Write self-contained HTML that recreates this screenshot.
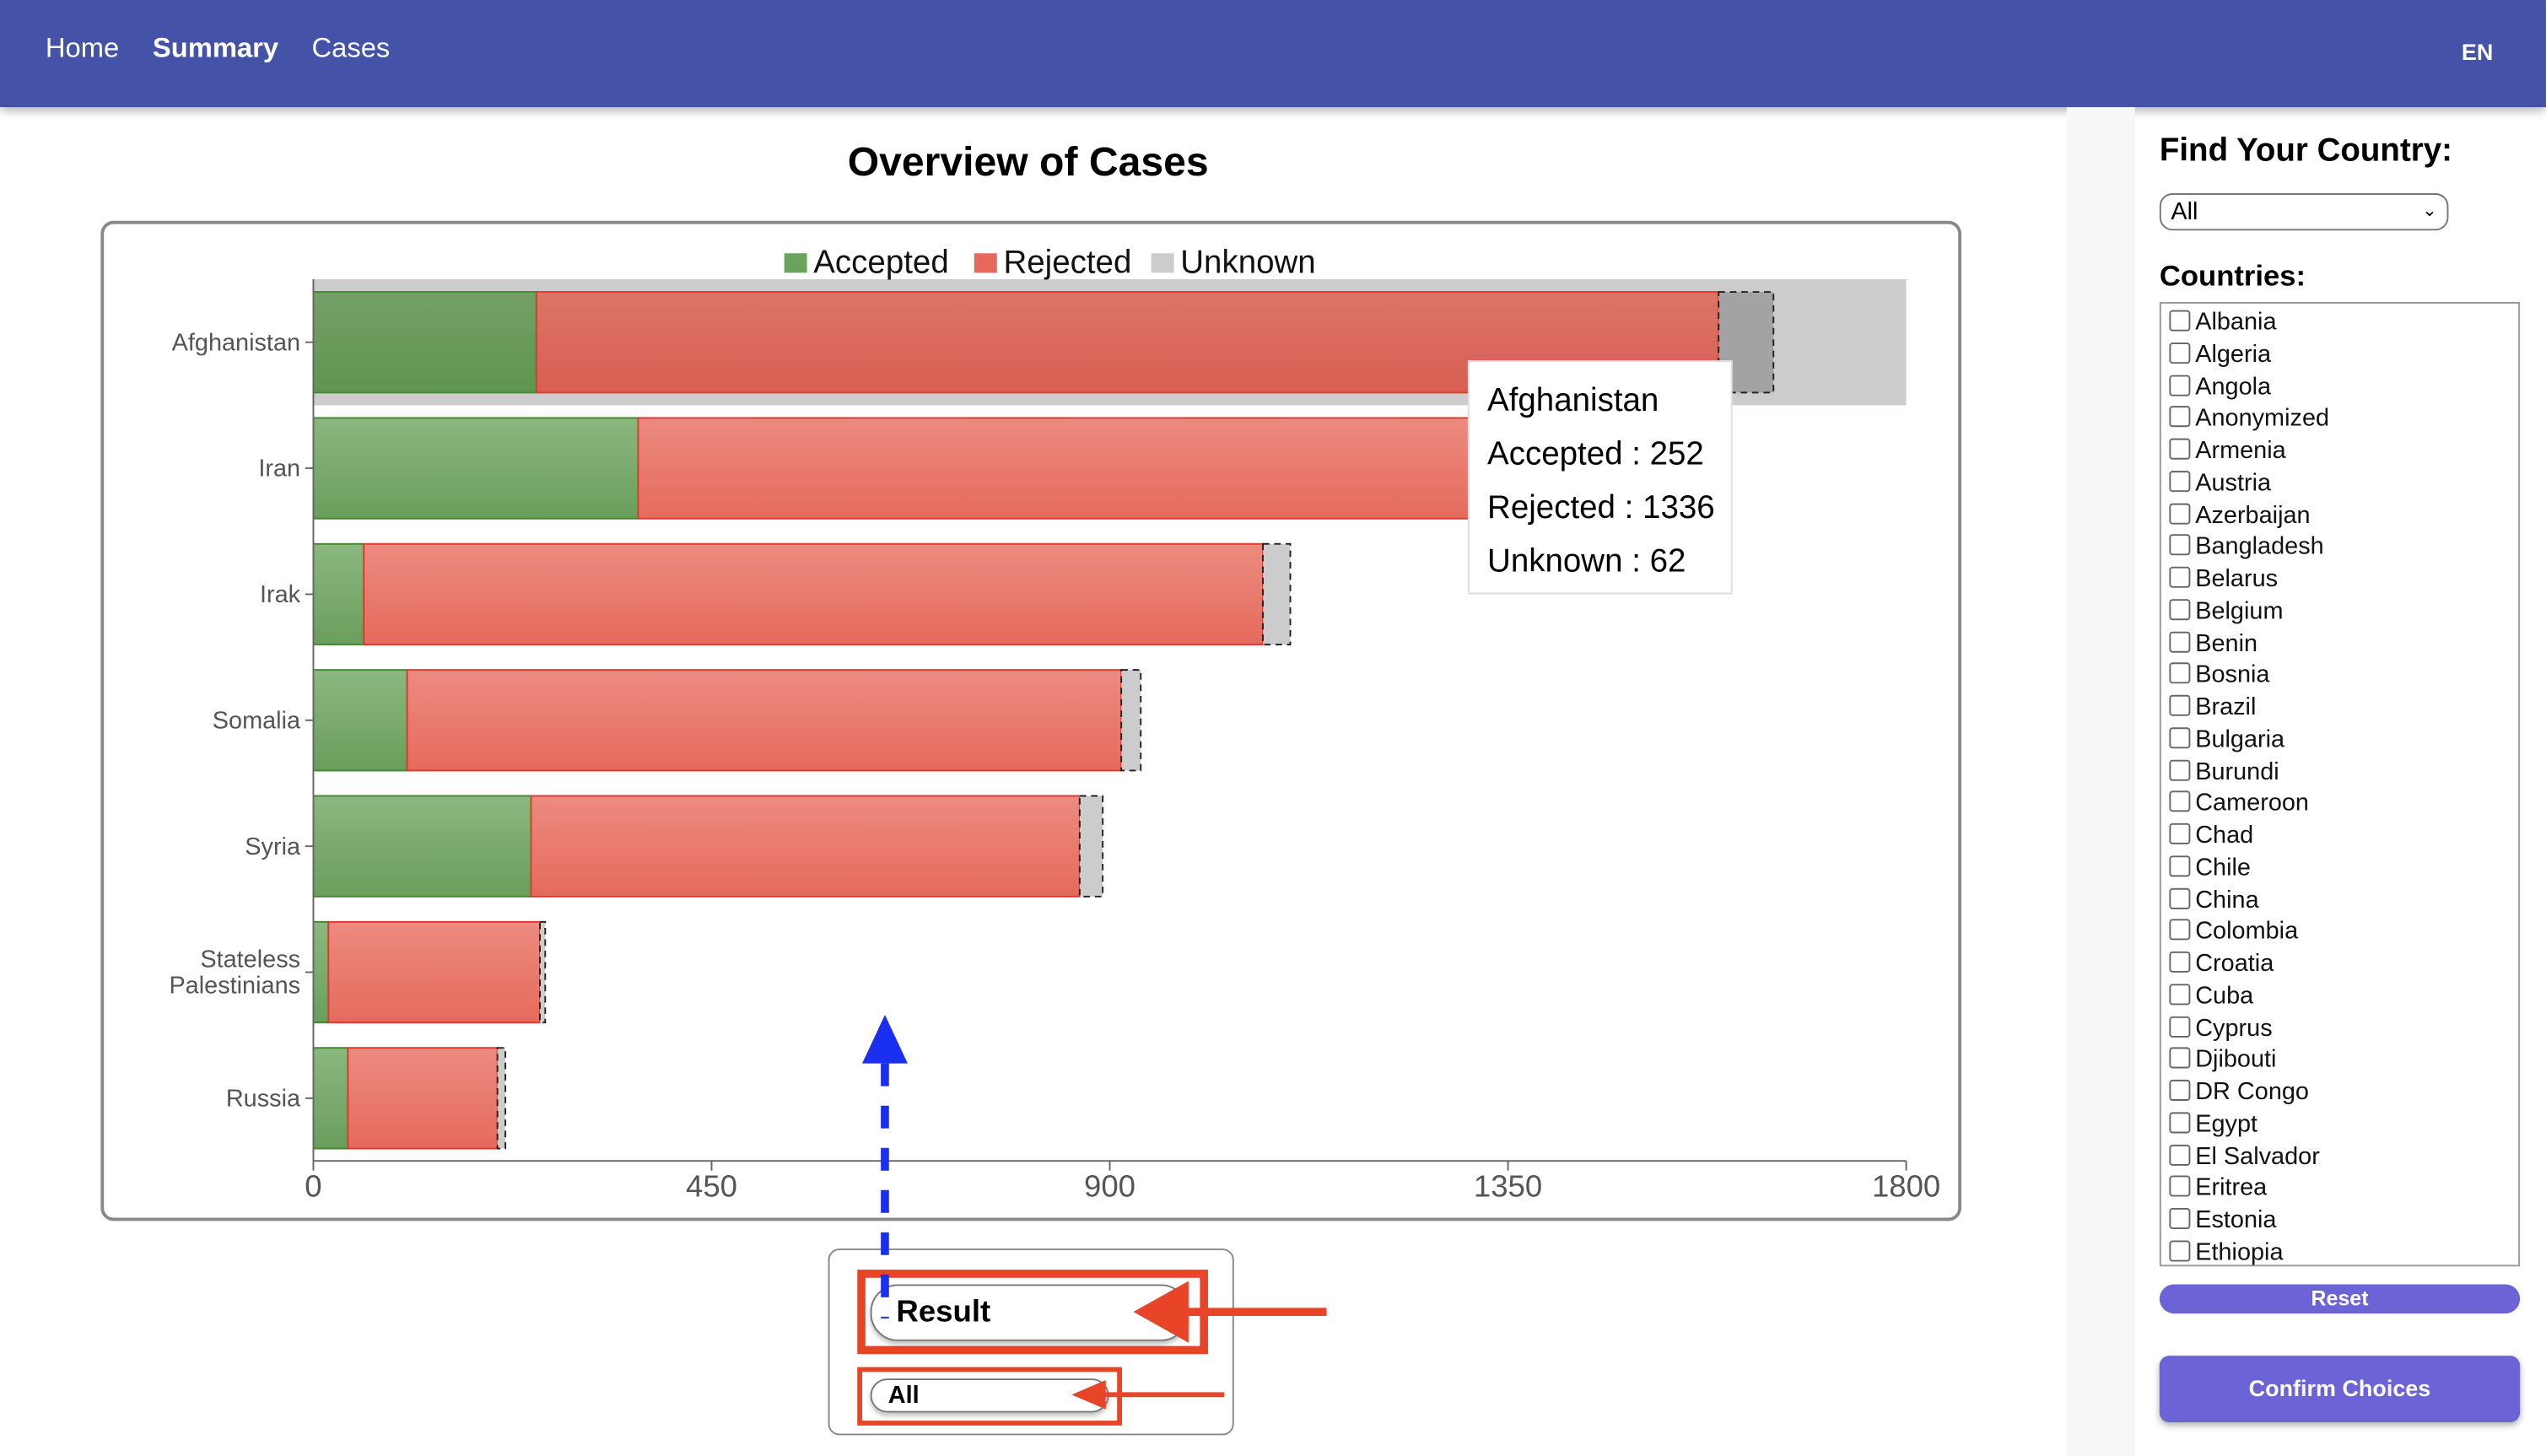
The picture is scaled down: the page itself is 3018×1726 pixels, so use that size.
<!DOCTYPE html>
<html><head><meta charset="utf-8"><style>
html,body{margin:0;padding:0;width:3018px;height:1726px;overflow:hidden;background:#fff;font-family:"Liberation Sans",sans-serif}
#wrap{position:absolute;left:0;top:0;width:1568px;height:897px;transform:scale(1.9247);transform-origin:0 0}
.nav{position:absolute;left:0;top:0;width:1568px;height:66px;background:#4453a8;box-shadow:0 2px 6px rgba(0,0,0,.3)}
.nav span{position:absolute;top:20px;color:#fff;font-size:17px}
.side{position:absolute;left:1273px;top:66px;width:42px;height:831px;background:#f7f7f7}
.item{position:absolute;left:1336px;font-size:15px;color:#111;height:19px;line-height:19px}
.item i{display:inline-block;width:11px;height:11px;border:1px solid #666;border-radius:2px;margin-right:3px;vertical-align:-1px}
</style></head><body><div id="wrap">
<div class="nav">
<span style="left:28px">Home</span>
<span style="left:94px;font-weight:bold">Summary</span>
<span style="left:192px">Cases</span>
<span style="left:1516px;font-size:14px;font-weight:bold;top:24px">EN</span>
</div>
<div class="side"></div>
<div style="position:absolute;left:522px;top:86px;font-size:25px;font-weight:bold">Overview of Cases</div>
<div style="position:absolute;left:62px;top:136px;width:1142px;height:612px;border:2px solid #888;border-radius:8px"></div>
<svg id="chart" style="position:absolute;left:0;top:0" width="1568" height="897"></svg>
<div style="position:absolute;left:904px;top:222px;width:163px;height:144px;background:#fff;border:1px solid #ddd;font-size:20px;line-height:33px;padding:8px 0 0 11px;box-sizing:border-box">Afghanistan<br>Accepted : 252<br>Rejected : 1336<br>Unknown : 62</div>
<div style="position:absolute;left:1330px;top:82px;font-size:20px;font-weight:bold">Find Your Country:</div>
<div style="position:absolute;left:1330px;top:119px;width:178px;height:23px;border:1px solid #777;border-radius:8px;box-sizing:border-box;font-size:15px;padding-left:6px;line-height:21px">All<span style="position:absolute;right:6px;top:0;font-size:11px">&#8964;</span></div>
<div style="position:absolute;left:1330px;top:160px;font-size:18px;font-weight:bold">Countries:</div>
<div style="position:absolute;left:1330px;top:186px;width:222px;height:594px;border:1px solid #999;box-sizing:border-box"></div>
<div id="list"></div>
<div style="position:absolute;left:1330px;top:791px;width:222px;height:18px;background:#6b63d6;border-radius:9px;color:#fff;font-size:13px;font-weight:bold;text-align:center;line-height:18px">Reset</div>
<div style="position:absolute;left:1330px;top:835px;width:222px;height:41px;background:#6b63d6;border-radius:6px;color:#fff;font-size:14px;font-weight:bold;text-align:center;line-height:41px;box-shadow:0 2px 4px rgba(0,0,0,.3)">Confirm Choices</div>
<div style="position:absolute;left:510px;top:769px;width:250px;height:115px;border:1px solid #888;border-radius:7px;box-sizing:border-box"></div>
<div style="position:absolute;left:528px;top:782px;width:216px;height:52px;border:5px solid #e84427;box-sizing:border-box"></div>
<div style="position:absolute;left:536px;top:791px;width:196px;height:35px;border:1px solid #777;border-radius:17px;box-sizing:border-box;font-size:19px;font-weight:bold;padding-left:15px;line-height:33px;box-shadow:0 2px 3px rgba(0,0,0,.25)">Result</div>
<div style="position:absolute;left:528px;top:842px;width:163px;height:36px;border:3px solid #e84427;box-sizing:border-box"></div>
<div style="position:absolute;left:536px;top:849px;width:147px;height:21px;border:1px solid #777;border-radius:11px;box-sizing:border-box;font-size:15px;font-weight:bold;padding-left:10px;line-height:19px;box-shadow:0 2px 3px rgba(0,0,0,.25)">All</div>
<svg style="position:absolute;left:0;top:0" width="1568" height="897">
<line x1="545" y1="655" x2="545" y2="812" stroke="#1a2ff0" stroke-width="5" stroke-dasharray="14,12"/>
<polygon points="545,625 531,655 559,655" fill="#1a2ff0"/>
<line x1="730" y1="808" x2="817" y2="808" stroke="#e84427" stroke-width="5"/>
<polygon points="698,808 732,789 732,827" fill="#e84427"/>
<line x1="676" y1="859" x2="754" y2="859" stroke="#e84427" stroke-width="3"/>
<polygon points="660,859 681,850 681,868" fill="#e84427"/>
</svg>
</div>
<script>
const categories=["Afghanistan","Iran","Irak","Somalia","Syria","Stateless Palestinians","Russia"];
const accepted=[252,367,57,106,246,17,39];
const rejected=[1336,1180,1016,807,620,239,169];
const unknown=[62,20,31,22,26,6,9];
const ticks=[0,450,900,1350,1800];
const NS="http://www.w3.org/2000/svg";
const svg=document.getElementById('chart');
const x0=193,x1=1174,top0=172,step=77.6;
const xs=v=>x0+v*(x1-x0)/1800;
function el(t,a,p){const e=document.createElementNS(NS,t);for(const k in a)e.setAttribute(k,a[k]);(p||svg).appendChild(e);return e;}
const defs=el('defs',{});
const gs=[['gG','#8ab87f','#6a9e5c'],['gR','#ec8b80','#e56a5d'],['gGd','#74a066','#5f9550'],['gRd','#db7468','#d85e52']];
gs.forEach(g=>{const lg=el('linearGradient',{id:g[0],x1:0,y1:0,x2:0,y2:1},defs);el('stop',{offset:0,'stop-color':g[1]},lg);el('stop',{offset:1,'stop-color':g[2]},lg);});
const hb=el('rect',{x:x0,y:top0,width:x1-x0,height:step,fill:'#cccccc'});


categories.forEach((c,i)=>{
 const yc=top0+step*i+step/2, y=yc-31, h=62, hi=i===0;
 const a=el('rect',{x:xs(0),y:y,width:xs(accepted[i])-xs(0),height:h,fill:hi?'url(#gGd)':'url(#gG)',stroke:'#3f8a2c','stroke-width':1});
 
 
 const r=el('rect',{x:xs(accepted[i]),y:y,width:xs(accepted[i]+rejected[i])-xs(accepted[i]),height:h,fill:hi?'url(#gRd)':'url(#gR)',stroke:'#e0382a','stroke-width':1});
 
 
 const u=el('rect',{x:xs(accepted[i]+rejected[i]),y:y,width:xs(accepted[i]+rejected[i]+unknown[i])-xs(accepted[i]+rejected[i]),height:h,fill:hi?'#a3a3a3':'#cccccc',stroke:'#222','stroke-width':1,'stroke-dasharray':'4,3'});
 
 
 el('line',{x1:x0-5,x2:x0,y1:yc,y2:yc,stroke:'#666'});
 const parts=c.split(' ');
 parts.forEach((p,j)=>{const t=el('text',{x:x0-8,y:yc+5+(j-(parts.length-1)/2)*16,'text-anchor':'end','font-size':15,fill:'#555'});t.textContent=p;
 
 });
});
el('line',{x1:x0,x2:x0,y1:top0,y2:715,stroke:'#666'});
el('line',{x1:x0,x2:x1,y1:715,y2:715,stroke:'#666'});
ticks.forEach(v=>{el('line',{x1:xs(v),x2:xs(v),y1:715,y2:721,stroke:'#666'});
 const t=el('text',{x:xs(v),y:737,'text-anchor':'middle','font-size':19,fill:'#555'});t.textContent=v;
 
 });
[['Accepted','#6aa35c',483],['Rejected','#e5695c',600],['Unknown','#cccccc',709]].forEach(l=>{
 const g=el('g',{});
 
 
 el('rect',{x:l[2],y:156,width:14,height:12,fill:l[1]},g);
 const t=el('text',{x:l[2]+18,y:168,'font-size':20,fill:'#111'},g);t.textContent=l[0];});
const names=["Albania","Algeria","Angola","Anonymized","Armenia","Austria","Azerbaijan","Bangladesh","Belarus","Belgium","Benin","Bosnia","Brazil","Bulgaria","Burundi","Cameroon","Chad","Chile","China","Colombia","Croatia","Cuba","Cyprus","Djibouti","DR Congo","Egypt","El Salvador","Eritrea","Estonia","Ethiopia"];
const list=document.getElementById('list');
names.forEach((n,i)=>{const d=document.createElement('div');d.className='item';d.style.top=(189+i*19.75)+'px';d.innerHTML='<i></i>'+n;
 
 
 list.appendChild(d);});
</script>
</body></html>
